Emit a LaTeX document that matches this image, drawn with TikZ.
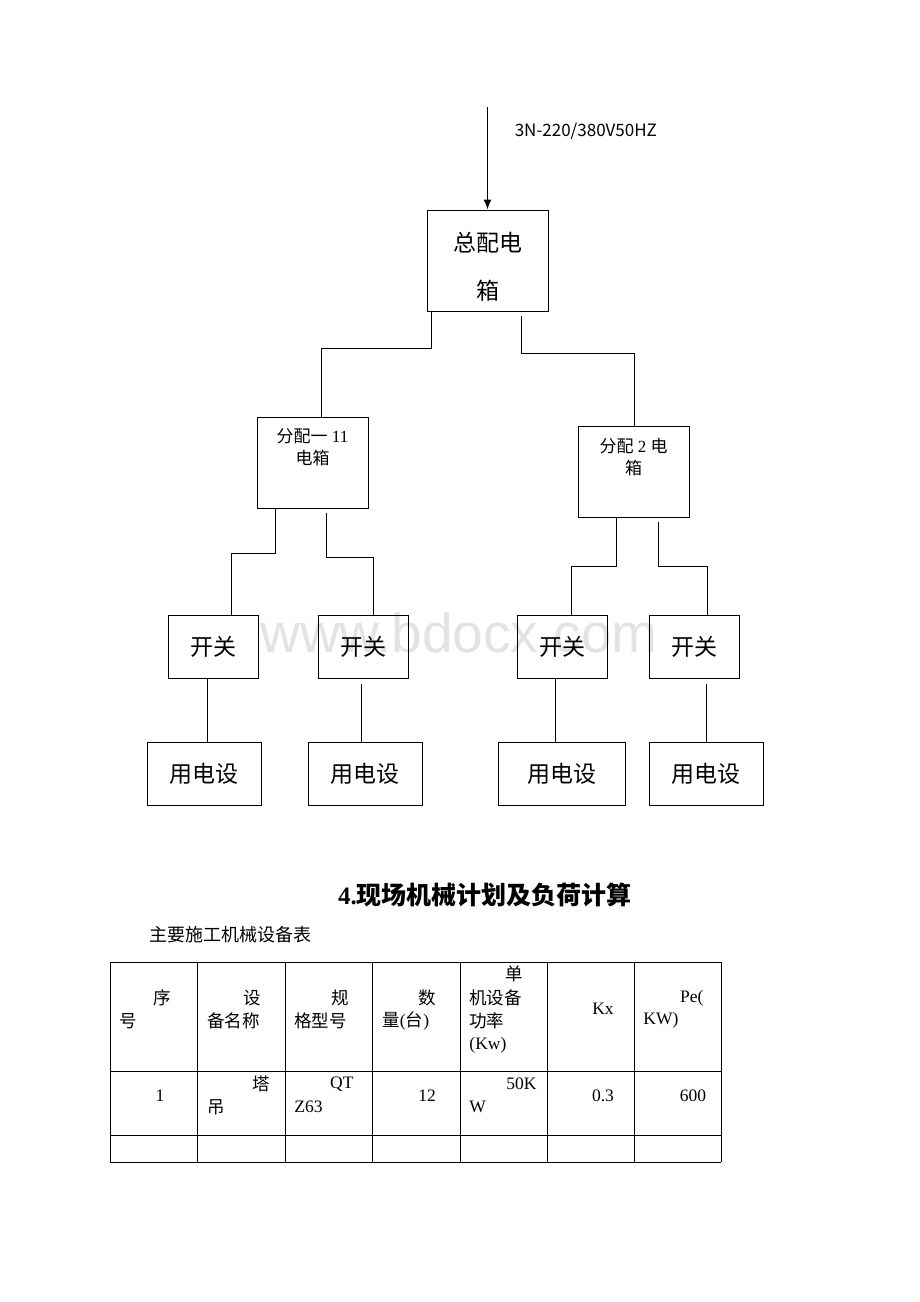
\documentclass[tikz,border=0pt]{standalone}
\usepackage{fontspec}
\setmainfont{Liberation Serif}
\newfontfamily\cjk{Noto Sans CJK SC}
\newfontfamily\wmfont{Liberation Sans}
\usetikzlibrary{arrows.meta,positioning,calc}
\tikzset{
  box/.style={draw,line width=1pt,inner sep=0pt},
  bigtxt/.style={font=\cjk\fontsize{23}{48}\selectfont,align=center},
  subtxt/.style={font=\fontsize{17}{22}\selectfont,align=center,inner sep=0pt},
  cell/.style={font=\fontsize{17.5}{17.5}\selectfont,inner sep=0pt}
}
\begin{document}
\begin{tikzpicture}[x=1pt,y=-1pt,line width=.9pt]
\useasboundingbox (0,0) rectangle (920,1302);
% watermark
\node[font=\wmfont\fontsize{55}{55}\selectfont,text=black!11] (wm) at (459,633) {www.bdocx.com};
% supply and main box
\coordinate (src) at (487.5,107);
\node[box,minimum width=121pt,minimum height=101pt] (main) at (487.5,260.5) {};
\node[bigtxt] (maint) at (487.5,266.5) {总配电\\箱};
\draw[line width=1.3pt,-{Latex[length=10pt,width=8pt]}] (src) -- (main.north);
\node[font=\cjk\fontsize{17}{17}\selectfont,anchor=west] (supply) at (511,131) {3N-220/380V50HZ};
% distribution boxes
\node[box,minimum width=111pt,minimum height=91pt] (sub1) at (312.5,462.5) {};
\node[subtxt,below=12pt of sub1.north] (sub1t) {{\cjk 分配一} 11\\{\cjk 电箱}};
\node[box,minimum width=111pt,minimum height=91pt] (sub2) at (633.5,471.5) {};
\node[subtxt,below=12pt of sub2.north] (sub2t) {{\cjk 分配} 2 {\cjk 电}\\{\cjk 箱}};
\draw ($(main.south west)+(5,0)$) -- ++(0,37) -| ($(sub1.north)+(8.5,0)$);
\draw ($(main.south west)+(95,4)$) -- ++(0,38) -| ($(sub2.north)+(0.5,0)$);
% switches and loads
\foreach \n/\x in {1/213,2/363,3/562,4/694}
  \node[box,minimum width=90pt,minimum height=63pt,bigtxt] (sw\n) at (\x,646.5) {开关};
\foreach \n/\x/\w in {1/204/114,2/365/114,3/561.5/127,4/706/114}
  \node[box,minimum width=\w pt,minimum height=63pt,bigtxt] (ld\n) at (\x,773.5) {用电设};
\draw ($(sub1.south west)+(19,0)$) -- ++(0,45) -| ($(sw1.north)+(18,0)$);
\draw ($(sub1.south west)+(70,4)$) -- ++(0,45) -| ($(sw2.north)+(10,0)$);
\draw ($(sub2.south west)+(39,0)$) -- ++(0,49) -| ($(sw3.north)+(9,0)$);
\draw ($(sub2.south west)+(81,4)$) -- ++(0,45) -| ($(sw4.north)+(13,0)$);
\foreach \n/\dx/\dy in {1/-6/0,2/-2/5,3/-7/0,4/12/5}
  \draw ($(sw\n.south)+(\dx,\dy)$) coordinate (t\n) -- (t\n |- ld\n.north);
% heading
\node[font=\bfseries\fontsize{25}{25}\selectfont] (title) at (485,895) {4.{\cjk\bfseries 现场机械计划及负荷计算}};
\node[font=\cjk\fontsize{18}{18}\selectfont,anchor=west] (caption) at (146,935) {主要施工机械设备表};
% table
\foreach \x in {110,197,285,372,460,547,634,721} \draw (\x,962) -- (\x,1162);
\foreach \y in {962,1071,1135,1162} \draw (110,\y) -- (721,\y);
\node[cell] (h1a) at (162,998) {\cjk 序};
\node[cell,anchor=west] (h1b) at (119,1021) {\cjk 号};
\node[cell] (h2a) at (252,998) {\cjk 设};
\node[cell,anchor=west] (h2b) at (207,1021) {\cjk 备名称};
\node[cell] (h3a) at (340,998) {\cjk 规};
\node[cell,anchor=west] (h3b) at (294,1021) {\cjk 格型号};
\node[cell] (h4a) at (427,998) {\cjk 数};
\node[cell,anchor=west] (h4b) at (382,1021) {{\cjk 量}({\cjk 台})};
\node[cell] (h5a) at (514,974) {\cjk 单};
\node[cell,anchor=west] (h5b) at (469,998) {\cjk 机设备};
\node[cell,anchor=west] (h5c) at (469,1021) {\cjk 功率};
\node[cell,anchor=west] (h5d) at (469,1045) {(Kw)};
\node[cell] (h6) at (603,1009) {Kx};
\node[cell,anchor=east] (h7a) at (704,998) {Pe(};
\node[cell,anchor=west] (h7b) at (643,1020) {KW)};
\node[cell] (r1) at (160,1096) {1};
\node[cell] (r2a) at (261,1084) {\cjk 塔};
\node[cell,anchor=west] (r2b) at (207,1107) {\cjk 吊};
\node[cell,anchor=east] (r3a) at (354,1084) {QT};
\node[cell,anchor=west] (r3b) at (294,1107) {Z63};
\node[cell] (r4) at (427,1096) {12};
\node[cell,anchor=east] (r5a) at (537,1084) {50K};
\node[cell,anchor=west] (r5b) at (469,1107) {W};
\node[cell] (r6) at (603,1096) {0.3};
\node[cell] (r7) at (693,1096) {600};
\end{tikzpicture}
\end{document}
